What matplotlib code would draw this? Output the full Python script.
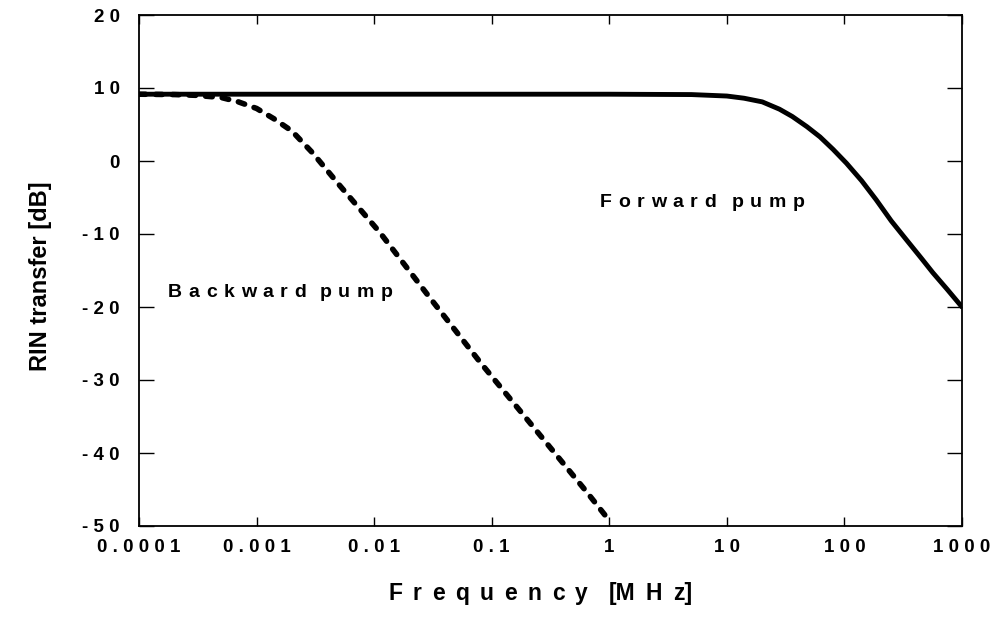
import matplotlib
matplotlib.use("Agg")
import matplotlib.pyplot as plt
from matplotlib.transforms import IdentityTransform
from matplotlib.ticker import NullLocator

# --- data (frequency in MHz, RIN transfer in dB) ---
FREQ_FWD = [1e-4, 0.01, 1, 5, 10, 14, 20, 28, 36, 48, 62, 80, 104, 140, 186,
            250, 337, 450, 565, 750, 1000]
RIN_FWD = [9.15, 9.15, 9.15, 9.1, 8.9, 8.6, 8.1, 7.1, 6.1, 4.7, 3.3, 1.6, -0.3,
           -2.7, -5.3, -8.2, -10.8, -13.3, -15.3, -17.6, -20.0]

FREQ_BWD = [1e-4, 2e-4, 3e-4, 5e-4, 7e-4, 1e-3, 1.4e-3, 2e-3, 3e-3, 5e-3,
            0.0112, 0.03, 0.08, 0.225, 0.64, 0.95]
RIN_BWD = [9.15, 9.1, 9.0, 8.7, 8.1, 7.2, 5.8, 4.1, 1.1, -3.2,
           -9.8, -18.8, -27.6, -36.4, -45.3, -48.8]

X_TICKS = [1e-4, 1e-3, 1e-2, 1e-1, 1, 10, 100, 1000]
X_TICK_LABELS = ["0.0001", "0.001", "0.01", "0.1", "1", "10", "100", "1000"]
Y_TICKS = [-50, -40, -30, -20, -10, 0, 10, 20]
Y_TICK_LABELS = ["-50", "-40", "-30", "-20", "-10", "0", "10", "20"]

W, H = 994, 617
plt.rcParams["font.family"] = ["Liberation Sans", "DejaVu Sans"]
plt.rcParams["font.weight"] = "bold"


def spaced(s):
    return " ".join(s)


def tracked_text(fig, xy, chunks, size, gap, word_gap, ha="left"):
    """Place characters one by one with a fixed ink gap (letter-spaced look)."""
    renderer = fig.canvas.get_renderer()
    x, pending, placed = 0.0, None, []
    for c in chunks:
        if c == " ":
            pending = word_gap
            continue
        t = fig.text(0, 0, c, fontsize=size, fontweight="bold",
                     transform=IdentityTransform(), va="baseline", ha="left")
        w = t.get_window_extent(renderer).width
        if placed:
            x += pending if pending is not None else gap
        placed.append((t, x))
        x += w
        pending = None
    x0 = xy[0] - x / 2 if ha == "center" else xy[0]
    for t, dx in placed:
        t.set_position((x0 + dx, xy[1]))


fig = plt.figure(figsize=(W / 100, H / 100), dpi=100)
ax = fig.add_axes([139 / W, 1 - 526 / H, 823 / W, 511 / H])

ax.plot(FREQ_FWD, RIN_FWD, color="black", lw=3.5, solid_capstyle="round")
ax.plot(FREQ_BWD, RIN_BWD, color="black", lw=4.0, dashes=(1.2, 1.8),
        dash_capstyle="round")

ax.set_xscale("log")
ax.set_xlim(1e-4, 1000)
ax.set_ylim(-50, 20)
ax.set_xticks(X_TICKS)
ax.set_xticklabels([spaced(s) for s in X_TICK_LABELS])
ax.set_yticks(Y_TICKS)
ax.set_yticklabels([spaced(s) for s in Y_TICK_LABELS])
ax.xaxis.set_minor_locator(NullLocator())

ax.tick_params(axis="x", which="major", direction="in", length=6.5, width=1,
               top=True, pad=9, labelsize=13.5)
ax.tick_params(axis="y", which="major", direction="in", length=11, width=1,
               right=True, pad=14, labelsize=13.5)
for lab in ax.get_xticklabels() + ax.get_yticklabels():
    lab.set_fontweight("bold")
for sp in ax.spines.values():
    sp.set_linewidth(1.3)

# curve labels
tracked_text(fig, ax.transData.transform((0.83, -6.3)), list("Forward") + [" "] + list("pump"),
             14, 6.5, 16)
tracked_text(fig, ax.transData.transform((1.77e-4, -18.6)), list("Backward") + [" "] + list("pump"),
             14, 6.5, 14)

# axis titles
tracked_text(fig, (540, H - 600),
             list("Frequency") + [" ", "[M", "H", "z]"], 16.5, 10.5, 21, ha="center")
fig.text(41 / W, 1 - 276 / H, "RIN transfer [dB]", rotation=90, fontsize=17,
         fontweight="bold", ha="center", va="center")

fig.savefig("out.png", dpi=100)
